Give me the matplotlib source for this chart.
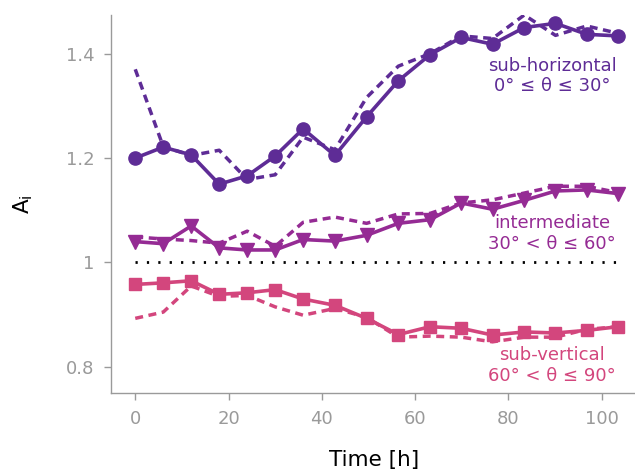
import matplotlib
matplotlib.use("Agg")
import matplotlib.pyplot as plt

# Sampling times [h]
time_h = [0, 6, 12, 18, 24, 30, 36, 42.8, 49.6, 56.4, 63.2, 69.9, 76.6, 83.4, 90.1, 96.8, 103.5]

# Anisotropy index per orientation class (solid = measured, dashed = alternative estimate)
horiz_solid = [1.200, 1.221, 1.206, 1.150, 1.166, 1.204, 1.256, 1.205, 1.279, 1.348,
               1.398, 1.431, 1.418, 1.450, 1.458, 1.437, 1.434]
horiz_dash = [1.370, 1.222, 1.205, 1.215, 1.159, 1.168, 1.240, 1.216, 1.316, 1.376,
              1.400, 1.434, 1.429, 1.474, 1.435, 1.453, 1.439]

inter_solid = [1.040, 1.036, 1.070, 1.028, 1.024, 1.024, 1.044, 1.041, 1.052, 1.075,
               1.082, 1.114, 1.102, 1.119, 1.137, 1.139, 1.132]
inter_dash = [1.049, 1.045, 1.042, 1.037, 1.060, 1.031, 1.077, 1.087, 1.075, 1.093,
              1.094, 1.114, 1.120, 1.133, 1.146, 1.146, 1.134]

vert_solid = [0.958, 0.961, 0.965, 0.939, 0.942, 0.948, 0.930, 0.918, 0.893, 0.862,
              0.877, 0.874, 0.861, 0.867, 0.865, 0.870, 0.877]
vert_dash = [0.893, 0.905, 0.955, 0.935, 0.937, 0.915, 0.899, 0.912, 0.895, 0.857,
             0.859, 0.857, 0.848, 0.857, 0.857, 0.872, 0.877]

labels = ["sub-horizontal\n0° ≤ θ ≤ 30°",
          "intermediate\n30° < θ ≤ 60°",
          "sub-vertical\n60° < θ ≤ 90°"]
label_y = [1.357, 1.056, 0.803]
label_x = 89.4

colors = ["#5E2C96", "#952B94", "#D3467D"]
markers = ["o", "v", "s"]
marker_sizes = [9.5, 10, 8.5]

yticks = [0.8, 1.0, 1.2, 1.4]
ytick_labels = ["0.8", "1", "1.2", "1.4"]
xticks = [0, 20, 40, 60, 80, 100]

fig = plt.figure(figsize=(6.35, 4.69), dpi=100)
ax = fig.add_axes([0.1748, 0.162, 0.83, 0.806])

grey = "#9A9A9A"

# reference level A_i = 1
ax.plot([time_h[0], time_h[-1]], [1.0, 1.0], color="black", lw=2,
        linestyle=(0, (0.8, 3.3)), zorder=1)

series = [(horiz_solid, horiz_dash), (inter_solid, inter_dash), (vert_solid, vert_dash)]
for (solid, dash), c, m, ms in zip(series, colors, markers, marker_sizes):
    ax.plot(time_h, dash, color=c, lw=2.5, linestyle=(0, (2.3, 1.6)), zorder=2)
    ax.plot(time_h, solid, color=c, lw=2.6, marker=m, markersize=ms, zorder=3)

for txt, yy, c in zip(labels, label_y, colors):
    ax.text(label_x, yy, txt, color=c, fontsize=13, ha="center", va="center",
            linespacing=1.2)

ax.set_xlim(-5.2, 107.8)
ax.set_ylim(0.75, 1.474)
ax.set_xticks(xticks)
ax.set_yticks(yticks)
ax.set_yticklabels(ytick_labels)

for side in ("top", "right"):
    ax.spines[side].set_visible(False)
for side in ("left", "bottom"):
    ax.spines[side].set_color(grey)
    ax.spines[side].set_linewidth(1.0)

ax.tick_params(axis="both", colors=grey, labelcolor=grey, labelsize=13,
               length=5, width=1, direction="out", pad=7)

ax.set_xlabel("Time [h]", fontsize=15.5, color="black", labelpad=16)
ax.set_ylabel(r"$\mathrm{A_i}$", fontsize=15.5, color="black", labelpad=22)

fig.savefig("out.png", dpi=100)
